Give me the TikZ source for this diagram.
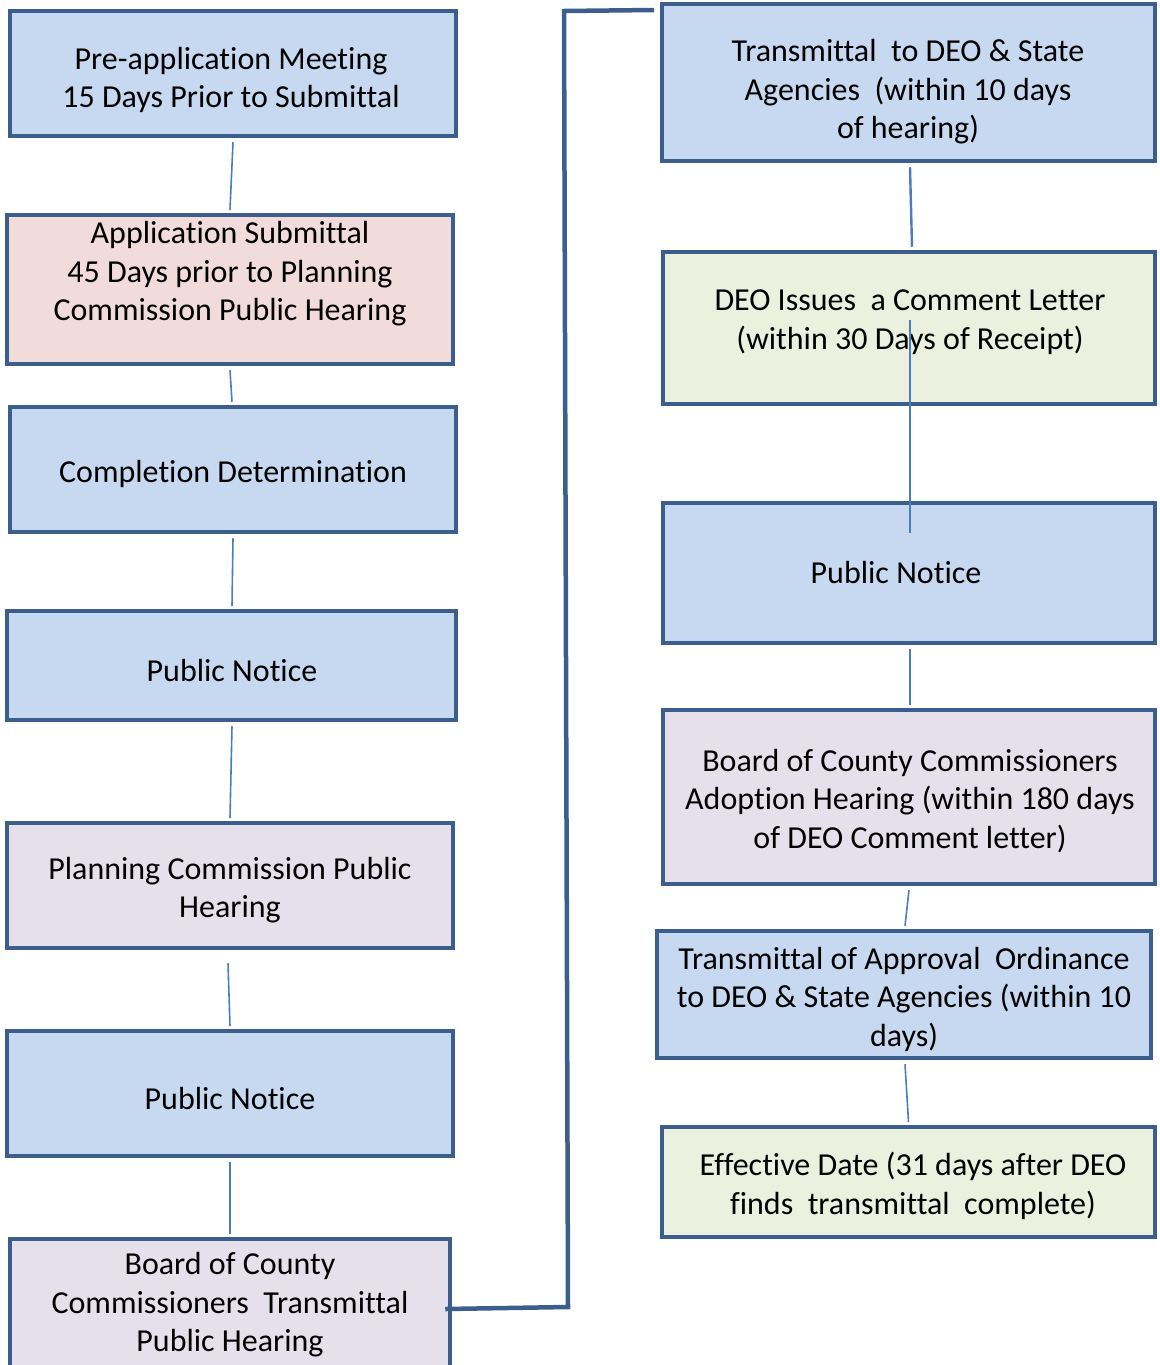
\documentclass[tikz,border=0pt]{standalone}
\usepackage{fontspec}
\setmainfont{Carlito}[Ligatures={CommonOff}]
\definecolor{bordc}{HTML}{3B5E8C}
\definecolor{connc}{HTML}{4A7EBB}
\definecolor{fblue}{HTML}{C6D9F1}
\definecolor{fpink}{HTML}{F2DCDB}
\definecolor{flav}{HTML}{E5E0EC}
\definecolor{fgreen}{HTML}{EBF1DE}
\tikzset{
  box/.style={draw=bordc, line width=4.5pt, inner sep=0pt, rectangle},
  txt/.style={align=center, inner sep=0pt, font=\fontsize{32}{38.5}\selectfont},
  conn/.style={draw=connc, line width=1.6pt},
  bigconn/.style={draw=bordc, line width=4.5pt},
}
\begin{document}
\begin{tikzpicture}[x=1pt,y=-1pt]
\useasboundingbox (0,0) rectangle (1159,1365);
% left column
\node[box, fill=fblue, minimum width=446pt, minimum height=125pt] (l1) at (233,73.5) {};
\node[txt] (l1t) at (231,80) {Pre-application Meeting\\15 Days Prior to Submittal};
\node[box, fill=fpink, minimum width=446pt, minimum height=149pt] (l2) at (230,289.5) {};
\node[txt] (l2t) at (230,274) {Application Submittal\\45 Days prior to Planning\\Commission Public Hearing};
\node[box, fill=fblue, minimum width=446pt, minimum height=125pt] (l3) at (233,469.5) {};
\node[txt] (l3t) at (233,474) {Completion Determination};
\node[box, fill=fblue, minimum width=449pt, minimum height=109pt] (l4) at (231.5,665.5) {};
\node[txt] (l4t) at (232,670) {Public Notice};
\node[box, fill=flav, minimum width=446pt, minimum height=125pt] (l5) at (230,885.5) {};
\node[txt] (l5t) at (230,890) {Planning Commission Public\\Hearing};
\node[box, fill=fblue, minimum width=446pt, minimum height=125pt] (l6) at (230,1093.5) {};
\node[txt] (l6t) at (230,1098) {Public Notice};
\node[box, fill=flav, minimum width=440pt, minimum height=134pt] (l7) at (230,1306) {};
\node[txt] (l7t) at (230,1305) {Board of County\\Commissioners\ \ Transmittal\\Public Hearing};
% right column
\node[box, fill=fblue, minimum width=493pt, minimum height=157pt] (r1) at (908.5,82.5) {};
\node[txt] (r1t) at (908,92) {Transmittal\ \ to DEO \& State\\Agencies\ \ (within 10 days\\of hearing)};
\node[box, fill=fgreen, minimum width=492pt, minimum height=152pt] (r2) at (909,328) {};
\node[txt] (r2t) at (910,322) {DEO Issues\ \ a Comment Letter\\(within 30 Days of Receipt)};
\node[box, fill=fblue, minimum width=492pt, minimum height=140pt] (r3) at (909,573) {};
\node[txt] (r3t) at (896,573) {Public Notice};
\node[box, fill=flav, minimum width=492pt, minimum height=174pt] (r4) at (909,797) {};
\node[txt] (r4t) at (910,801) {Board of County Commissioners\\Adoption Hearing (within 180 days\\of DEO Comment letter)};
\node[box, fill=fblue, minimum width=494pt, minimum height=127pt] (r5) at (904,994.5) {};
\node[txt] (r5t) at (904,999) {Transmittal of Approval\ \ Ordinance\\to DEO \& State Agencies (within 10\\days)};
\node[box, fill=fgreen, minimum width=493pt, minimum height=110pt] (r6) at (908.5,1182) {};
\node[txt] (r6t) at (913,1186) {Effective Date (31 days after DEO\\finds\ \ transmittal\ \ complete)};
% connectors left
\draw[conn] ([yshift=-4pt]l1.south) -- ([yshift=3pt]l2.north);
\draw[conn] ([yshift=-4pt]l2.south) -- ([xshift=-1pt,yshift=3pt]l3.north);
\draw[conn] ([yshift=-4pt]l3.south) -- ([xshift=0.5pt,yshift=3pt]l4.north);
\draw[conn] ([xshift=0.5pt,yshift=-4pt]l4.south) -- ([yshift=3pt]l5.north);
\draw[conn] ([xshift=-2pt,yshift=-13pt]l5.south) -- ([yshift=3pt]l6.north);
\draw[conn] ([yshift=-4pt]l6.south) -- ([yshift=3pt]l7.north);
% connectors right
\draw[conn, line width=2.4pt] ([xshift=1.5pt,yshift=-4pt]r1.south) -- ([xshift=3pt,yshift=3pt]r2.north);
\draw[conn] ([xshift=1pt,yshift=8pt]r2.center) -- ([xshift=1pt,yshift=40pt]r3.center);
\draw[conn] ([xshift=1pt,yshift=-4pt]r3.south) -- ([xshift=1pt,yshift=3pt]r4.north);
\draw[conn] ([yshift=-4pt]r4.south) -- ([xshift=1pt,yshift=3pt]r5.north);
\draw[conn] ([xshift=1pt,yshift=-4pt]r5.south) -- ([yshift=3pt]r6.north);
% long connector
\coordinate (b1) at (568,1307);
\coordinate (b2) at (564,11);
\coordinate (e1) at (654,10);
\draw[bigconn] ([xshift=-7pt,yshift=-3pt]l7.east) -- (b1) -- (b2) -- (e1);
\end{tikzpicture}
\end{document}
